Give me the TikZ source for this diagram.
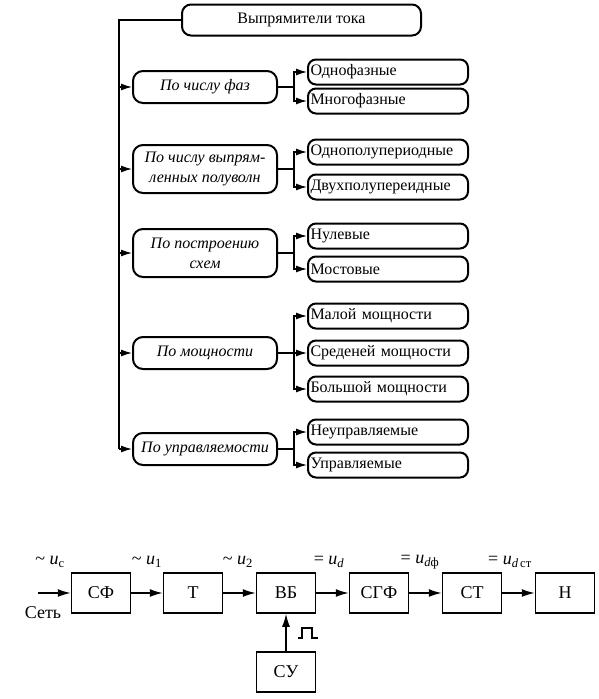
\documentclass[tikz,border=0pt]{standalone}
\usepackage{fontspec}
\setmainfont{Liberation Serif}
\usetikzlibrary{shapes,arrows.meta}
\tikzstyle{head} = [rectangle,draw,rounded corners=9pt,line width=2pt,text centered,minimum width=239pt,minimum height=31pt,font=\fontsize{16}{18}\selectfont]
\tikzstyle{cat} = [rectangle,draw,rounded corners=10pt,line width=2pt,align=center,minimum width=144pt,minimum height=32pt,font=\fontsize{16}{20}\selectfont\itshape]
\tikzstyle{sub} = [rectangle,draw,rounded corners=8pt,line width=2pt,align=left,text width=155pt,inner xsep=2.5pt,minimum height=25pt,font=\fontsize{16}{18}\selectfont]
\tikzstyle{blk} = [rectangle,draw,line width=1.5pt,text centered,minimum width=59pt,minimum height=40pt,font=\fontsize{18}{20}\selectfont]
\tikzstyle{lbl} = [font=\fontsize{18}{20}\selectfont]
\tikzstyle{arr} = [-{Latex[length=11pt,width=7pt]},line width=1.3pt]
\tikzstyle{barr} = [-{Latex[length=13pt,width=8pt]},line width=1.5pt]

\begin{document}
\begin{tikzpicture}[x=1pt,y=1pt,node distance=29pt]
	\useasboundingbox (0,0) rectangle (599,-699);

	\node[head] (title) at (301.5,-20) {Выпрямители тока};
	\node[cat,xshift=-96.5pt,yshift=-38pt,below of=title] (phase) {По числу фаз};
	\node[sub,xshift=154pt,yshift=15pt,right of=phase] (single) {Однофазные};
	\node[sub,below of=single] (multi) {Многофазные};
	\node[cat,minimum height=48pt,yshift=-53pt,below of=phase] (wave) {По числу выпрям-\\ленных полуволн};
	\node[sub,xshift=154pt,yshift=17pt,right of=wave] (halfwave) {Однополупериодные};
	\node[sub,yshift=-6pt,below of=halfwave] (fullwave) {Двухполупереидные};
	\node[cat,minimum height=48pt,yshift=-55pt,below of=wave] (scheme) {По построению\\схем};
	\node[sub,xshift=154pt,yshift=17pt,right of=scheme] (zero) {Нулевые};
	\node[sub,yshift=-4pt,below of=zero] (bridge) {Мостовые};
	\node[cat,yshift=-71pt,below of=scheme] (power) {По мощности};
	\node[sub,xshift=154pt,yshift=37pt,right of=power] (low) {Малой мощности};
	\node[sub,yshift=-8pt,below of=low] (mid) {Среденей мощности};
	\node[sub,yshift=-7pt,below of=mid] (high) {Большой мощности};
	\node[cat,yshift=-67pt,below of=power] (control) {По управляемости};
	\node[sub,xshift=154pt,yshift=17pt,right of=control] (uncontrolled) {Неуправляемые};
	\node[sub,yshift=-4pt,below of=uncontrolled] (controlled) {Управляемые};

	\coordinate (trunk) at (119,-449);
	\draw[line width=1.3pt] (title.west) -| (trunk);
	\draw[arr] (trunk |- phase.west) -- (phase.west);
	\draw[arr] (trunk |- wave.west) -- (wave.west);
	\draw[arr] (trunk |- scheme.west) -- (scheme.west);
	\draw[arr] (trunk |- power.west) -- (power.west);
	\draw[arr] (trunk |- control.west) -- (control.west);

	\draw[arr] (phase.east) -- ++(16,0) |- (single.west);
	\draw[arr] (phase.east) -- ++(16,0) |- (multi.west);
	\draw[arr] (wave.east) -- ++(16,0) |- (halfwave.west);
	\draw[arr] (wave.east) -- ++(16,0) |- (fullwave.west);
	\draw[arr] (scheme.east) -- ++(16,0) |- (zero.west);
	\draw[arr] (scheme.east) -- ++(16,0) |- (bridge.west);
	\draw[arr] (power.east) -- ++(16,0) |- (low.west);
	\draw[arr] (power.east) -- (mid.west);
	\draw[arr] (power.east) -- ++(16,0) |- (high.west);
	\draw[arr] (control.east) -- ++(16,0) |- (uncontrolled.west);
	\draw[arr] (control.east) -- ++(16,0) |- (controlled.west);

	% structure of the rectifier
	\node[blk] (sf) at (101,-593) {СФ};
	\node[blk,xshift=63pt,right of=sf] (tr) {Т};
	\node[blk,xshift=64pt,right of=tr] (vb) {ВБ};
	\node[blk,xshift=64pt,right of=vb] (sgf) {СГФ};
	\node[blk,xshift=64pt,right of=sgf] (st) {СТ};
	\node[blk,xshift=64pt,right of=st] (load) {Н};
	\node[blk,yshift=-50pt,below of=vb] (su) {СУ};

	\coordinate[xshift=-34pt,left of=sf] (net);
	\node[lbl,xshift=-58pt,yshift=9pt,below of=sf] (netname) {Сеть};
	\node[lbl,xshift=-51pt,yshift=2pt,above of=sf] (uc) {\~{} \textit{u}\textsubscript{с}};
	\node[lbl,xshift=-46pt,yshift=2pt,above of=tr] (u1) {\~{} \textit{u}\textsubscript{1}};
	\node[lbl,xshift=-48pt,yshift=2pt,above of=vb] (u2) {\~{} \textit{u}\textsubscript{2}};
	\node[lbl,xshift=-50pt,yshift=2pt,above of=sgf] (ud) {= \textit{u}\textsubscript{\textit{d}}};
	\node[lbl,xshift=-52pt,yshift=2pt,above of=st] (udf) {= \textit{u}\textsubscript{\textit{d}ф}};
	\node[lbl,xshift=-55pt,yshift=2pt,above of=load] (udst) {= \textit{u}\textsubscript{\textit{d}\,ст}};

	\draw[barr] (net) -- (sf);
	\draw[barr] (sf) -- (tr);
	\draw[barr] (tr) -- (vb);
	\draw[barr] (vb) -- (sgf);
	\draw[barr] (sgf) -- (st);
	\draw[barr] (st) -- (load);
	\draw[barr] (su) -- (vb);

	\draw[line width=1.5pt] (298,-638) -- ++(4,0) -- ++(0,10) -- ++(10,0) -- ++(0,-10) -- ++(6,0);

\end{tikzpicture}
\end{document}
